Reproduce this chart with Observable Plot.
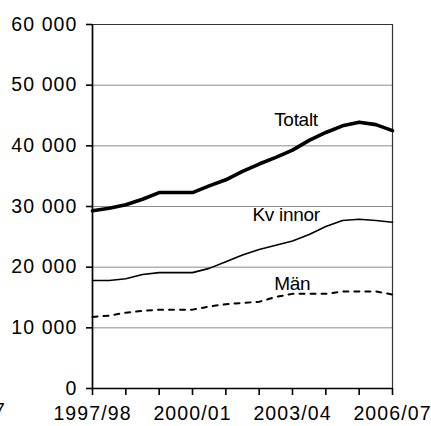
<!DOCTYPE html>
<html>
<head>
<meta charset="utf-8">
<script src="https://cdn.jsdelivr.net/npm/d3@7"></script>
<script src="https://cdn.jsdelivr.net/npm/@observablehq/plot@0.6"></script>
<style>
  html, body { margin: 0; padding: 0; background: #fff; }
  #wrap { position: relative; width: 431px; height: 426px; overflow: hidden; }
  #stray { position: absolute; left: -6px; top: 399px; font: 19.5px "Liberation Sans", Arial, sans-serif; color: #000; }
  #wrap svg g[aria-label="y-axis tick label"] text,
  #wrap svg g[aria-label="x-axis tick label"] text { letter-spacing: 1.1px; }
  #wrap svg g[aria-label="text"] text { letter-spacing: -0.3px; }
</style>
</head>
<body>
<div id="wrap"><div id="stray">7</div></div>
<script>
// Half-year positions (terms) along the x axis
const terms = [1997, 1997.5, 1998, 1998.5, 1999, 1999.5, 2000, 2000.5, 2001, 2001.5,
               2002, 2002.5, 2003, 2003.5, 2004, 2004.5, 2005, 2005.5, 2006];
const totalt  = [29300, 29700, 30300, 31200, 32300, 32300, 32300, 33400, 34400, 35800,
                 37000, 38100, 39300, 40900, 42200, 43300, 43900, 43500, 42500];
const kvinnor = [17800, 17800, 18100, 18800, 19100, 19100, 19100, 19800, 20900, 22000,
                 22900, 23600, 24300, 25400, 26700, 27700, 27900, 27700, 27400];
const man     = [11800, 12000, 12500, 12800, 13000, 13000, 13000, 13500, 13900, 14100,
                 14300, 15100, 15600, 15600, 15600, 16000, 16000, 16000, 15500];

const tickYears  = [1997, 1998, 1999, 2000, 2001, 2002, 2003, 2004, 2005, 2006];
const labelYears = [1997, 2000, 2003, 2006];
const tickLabels = ["1997/98", "2000/01", "2003/04", "2006/07"];
const yTicks = [0, 10000, 20000, 30000, 40000, 50000, 60000];

const seriesNames = ["Totalt", "Kv innor", "Män"];
const labelX = [2002.45, 2001.8, 2002.45];
const labelY = [43200, 27600, 16300];

const rows = (vals) => terms.map((t, i) => ({x: t, y: vals[i]}));
const labels = seriesNames.map((s, i) => ({name: s, x: labelX[i], y: labelY[i]}));
const fmtY = d => d3.format(",")(d).replace(/,/g, " ");
const fmtX = d => { const i = labelYears.indexOf(d); return i >= 0 ? tickLabels[i] : ""; };

const chart = Plot.plot({
  width: 431, height: 426,
  marginLeft: 92, marginRight: 39, marginTop: 24, marginBottom: 38,
  style: {fontFamily: "'Liberation Sans', Arial, sans-serif", fontSize: "19.5px", color: "#000", background: "#fff"},
  x: {domain: [1997, 2006]},
  y: {domain: [0, 60000]},
  marks: [
    Plot.ruleY(yTicks.slice(1, -1), {stroke: "#8a8a8a", strokeWidth: 1}),
    Plot.ruleY([60000], {stroke: "#333", strokeWidth: 1.2}),
    Plot.ruleX([2006], {stroke: "#333", strokeWidth: 1.2}),
    Plot.lineY(rows(man), {x: "x", y: "y", stroke: "#000", strokeWidth: 2, strokeDasharray: "5,6"}),
    Plot.lineY(rows(kvinnor), {x: "x", y: "y", stroke: "#000", strokeWidth: 1.6}),
    Plot.lineY(rows(totalt), {x: "x", y: "y", stroke: "#000", strokeWidth: 3.6}),
    Plot.ruleX([1997], {stroke: "#000", strokeWidth: 1.7}),
    Plot.ruleY([0], {stroke: "#000", strokeWidth: 1.7}),
    Plot.axisY({ticks: yTicks, tickFormat: fmtY, tickSize: 6, tickPadding: 9, label: null,
                stroke: "#000", strokeWidth: 1.6, fontSize: 19.5}),
    Plot.axisX({ticks: tickYears, tickFormat: fmtX, tickSize: 7, tickPadding: 11, label: null,
                stroke: "#000", strokeWidth: 1.6, fontSize: 19.5}),
    Plot.text(labels, {x: "x", y: "y", text: "name", textAnchor: "start", lineAnchor: "bottom",
                       fontSize: 19, fill: "#000"})
  ]
});
document.getElementById("wrap").appendChild(chart);
</script>
</body>
</html>
